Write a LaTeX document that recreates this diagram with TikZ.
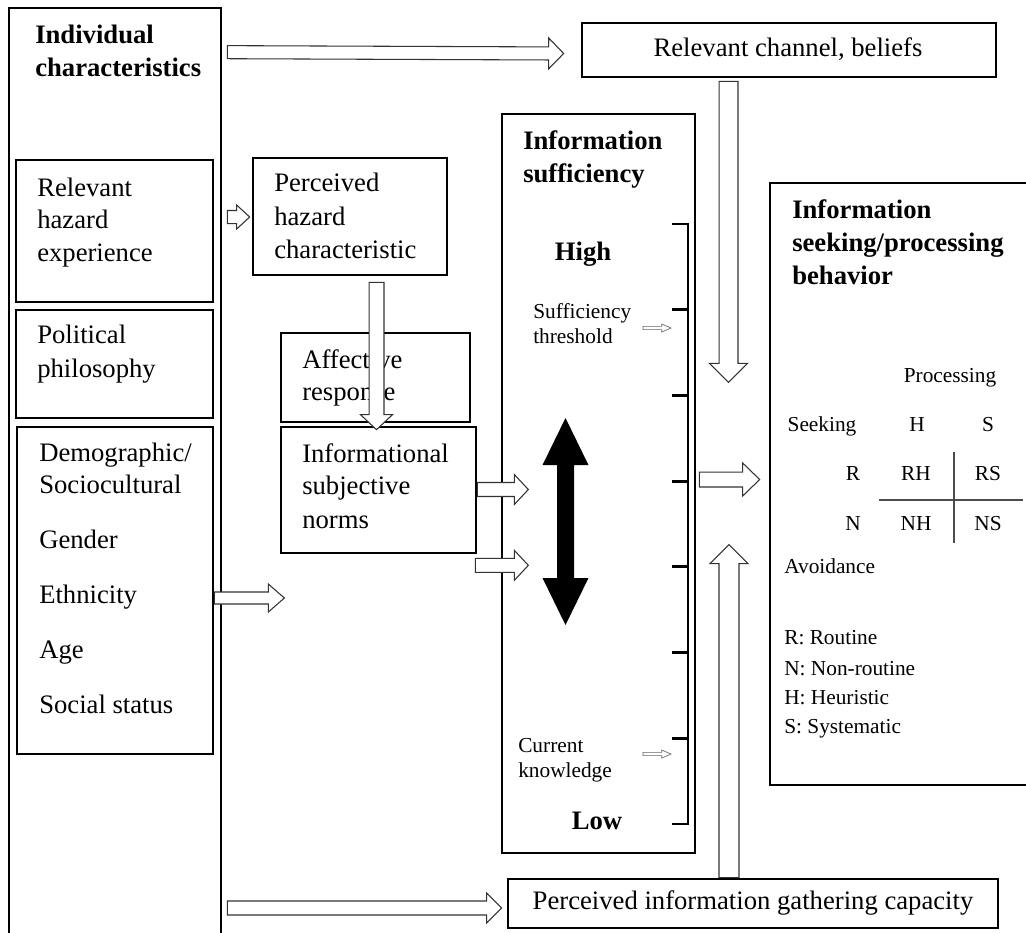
\documentclass[tikz,border=0pt]{standalone}
\usepackage{fontspec}
\setmainfont{Liberation Serif}
\usetikzlibrary{calc,fit}
% block arrow: [style]{from}{to}{shaft half width}{head half width}{head length}
\newcommand\blockarrow[6][]{%
  \coordinate (bas) at #2;
  \coordinate (bae) at #3;
  \coordinate (bac) at ($(bae)!#6!(bas)$);
  \draw[arrowbody,#1] ($(bas)!#4!90:(bae)$) -- ($(bac)!#4!90:(bae)$) -- ($(bac)!#5!90:(bae)$)
     -- (bae) -- ($(bac)!#5!-90:(bae)$) -- ($(bac)!#4!-90:(bae)$) -- ($(bas)!#4!-90:(bae)$) -- cycle;
}
\begin{document}
\begin{tikzpicture}[x=0.75pt,y=-0.75pt,
  box/.style={draw=black,line width=2pt,inner sep=0pt},
  arrowbody/.style={draw=black!80,fill=white,line width=0.8pt,line join=miter},
  big/.style={font=\fontsize{20}{24}\selectfont,inner sep=0pt,text height=13.6pt,text depth=4pt},
  bigb/.style={big,font=\fontsize{20}{24}\selectfont\bfseries},
  small/.style={font=\fontsize{16}{19}\selectfont,inner sep=0pt,text height=10.9pt,text depth=3.2pt},
  lft/.style={anchor=west},
  scalebar/.style={line width=2.2pt},
  tableline/.style={draw=black!70,line width=0.9pt}]
\useasboundingbox (0,0) rectangle (1026,933);

% ---------- boxes ----------
\node[box, fit={(9,8) (221,945)}] (indiv) {};
\node[box, fit={(16,160) (213,302)}] (hazardexp) {};
\node[box, fit={(16,310) (213,418)}] (political) {};
\node[box, fit={(17,427) (213,754)}] (demog) {};
\node[box, fit={(582,23) (996,77)}] (relchan) {};
\node[box, fit={(253,158) (447,275)}] (perceived) {};
\node[box, fit={(281,333) (470,422)}] (affective) {};
\node[box, fit={(281,427) (476,553)}] (informational) {};
\node[box, fit={(502,114) (695,853)}] (suff) {};
\node[box, fit={(770,183) (1040,785)}] (seekbox) {};
\node[box, fit={(508,879) (998,928)}] (gather) {};

% ---------- texts ----------
\node[bigb,lft] (t-indiv1) at (35,37) {Individual};
\node[bigb,lft] (t-indiv2) at (35,70) {characteristics};

\node[big,lft] (t-haz1) at (37,190) {Relevant};
\node[big,lft] (t-haz2) at (37,222) {hazard};
\node[big,lft] (t-haz3) at (37,255) {experience};

\node[big,lft] (t-pol1) at (37,337) {Political};
\node[big,lft] (t-pol2) at (37,371) {philosophy};

\node[big,lft] (t-dem1) at (39,455) {Demographic/};
\node[big,lft] (t-dem2) at (39,487) {Sociocultural};
\node[big,lft] (t-dem3) at (39,542) {Gender};
\node[big,lft] (t-dem4) at (39,597) {Ethnicity};
\node[big,lft] (t-dem5) at (39,652) {Age};
\node[big,lft] (t-dem6) at (39,707) {Social status};

\node[big] (t-relchan) at (788,50) {Relevant channel, beliefs};

\node[big,lft] (t-per1) at (274,185) {Perceived};
\node[big,lft] (t-per2) at (274,219) {hazard};
\node[big,lft] (t-per3) at (274,252) {characteristic};

\node[big,lft] (t-aff1) at (302,362) {Affective};
\node[big,lft] (t-aff2) at (302,394) {response};

\node[big,lft] (t-inf1) at (302,456) {Informational};
\node[big,lft] (t-inf2) at (302,488) {subjective};
\node[big,lft] (t-inf3) at (302,522) {norms};

\node[bigb,lft] (t-suff1) at (523,143) {Information};
\node[bigb,lft] (t-suff2) at (523,176) {sufficiency};
\node[bigb] (t-high) at (583,254) {High};
\node[small,lft] (t-thr1) at (533,313) {Sufficiency};
\node[small,lft] (t-thr2) at (533,338) {threshold};
\node[small,lft] (t-cur1) at (518,747) {Current};
\node[small,lft] (t-cur2) at (518,772) {knowledge};
\node[bigb] (t-low) at (597,823) {Low};

\node[big] (t-gather) at (753,903) {Perceived information gathering capacity};

\node[bigb,lft] (t-seek1) at (792,212) {Information};
\node[bigb,lft] (t-seek2) at (792,245) {seeking/processing};
\node[bigb,lft] (t-seek3) at (792,278) {behavior};

\node[small] (t-proc) at (950,377) {Processing};
\node[small] (t-seeking) at (822,426) {Seeking};
\node[small] (t-colH) at (917,426) {H};
\node[small] (t-colS) at (988,426) {S};
\node[small] (t-rowR) at (853,475) {R};
\node[small] (t-RH) at (916,475) {RH};
\node[small] (t-RS) at (988,475) {RS};
\node[small] (t-rowN) at (853,525) {N};
\node[small] (t-NH) at (916,525) {NH};
\node[small] (t-NS) at (988,525) {NS};
\draw[tableline] (954,452) -- (954,543);
\draw[tableline] (879,500) -- (1023,500);
\node[small,lft] (t-avoid) at (784,568) {Avoidance};
\node[small,lft] (t-legR) at (784,639) {R: Routine};
\node[small,lft] (t-legN) at (784,670) {N: Non-routine};
\node[small,lft] (t-legH) at (784,699) {H: Heuristic};
\node[small,lft] (t-legS) at (784,728) {S: Systematic};

% ---------- scale bar ----------
\draw[scalebar] (672,224) -- (688,224) -- (688,824) -- (672,824);
\foreach \yy in {309.7,395.4,481.1,566.9,652.6,738.3}
  \draw[scalebar] (672,\yy) -- (688,\yy);

% ---------- double arrow ----------
\fill[black] (565.5,418) -- (588.5,465) -- (574,465) -- (574,578) -- (588.5,578)
  -- (565.5,625) -- (542.5,578) -- (557,578) -- (557,465) -- (542.5,465) -- cycle;

% ---------- block arrows ----------
\blockarrow{($(indiv.north east)+(5,45.5)$)}{($(relchan.west)+(-17,3.5)$)}{4.9pt}{11.6pt}{11.25pt}
\blockarrow{($(hazardexp.east)+(13,-14)$)}{($(perceived.west)+(-2,0.5)$)}{4.9pt}{9pt}{9.75pt}
\blockarrow{($(perceived.south)+(26.5,6)$)}{($(informational.north)+(-2,4)$)}{5.6pt}{12pt}{11.25pt}
\blockarrow{($(demog.east)+(0,7.5)$)}{($(demog.east)+(70,7.5)$)}{4.5pt}{10.5pt}{12pt}
\blockarrow{($(informational.east)+(0,-0.5)$)}{($(informational.east)+(51,-0.5)$)}{5.25pt}{11.25pt}{10.5pt}
\blockarrow{($(informational.south east)+(-2,11)$)}{($(informational.south east)+(51,11)$)}{5.25pt}{11.25pt}{10.5pt}
\blockarrow{($(suff.east)+(3,-4)$)}{($(seekbox.west)+(-9,-4.5)$)}{5.6pt}{12.4pt}{12.75pt}
\blockarrow{($(relchan.south)+(-60.5,3)$)}{($(relchan.south)+(-60.5,304)$)}{7.1pt}{14.25pt}{14.25pt}
\blockarrow{($(gather.north)+(-24,0)$)}{($(gather.north)+(-24,-333)$)}{7.5pt}{14.25pt}{14.25pt}
\blockarrow{($(indiv.east|-gather.west)+(5,4.5)$)}{($(gather.west)+(-5,4.5)$)}{5.25pt}{11.25pt}{11.25pt}

% small arrows pointing to scale
\coordinate (thr-s) at (643,328);
\coordinate (thr-e) at (671,328);
\coordinate (cur-s) at (643,754);
\coordinate (cur-e) at (671,754);
\blockarrow[line width=0.5pt,draw=black!60]{(thr-s)}{(thr-e)}{1.2pt}{3pt}{7pt}
\blockarrow[line width=0.5pt,draw=black!60]{(cur-s)}{(cur-e)}{1.2pt}{3pt}{7pt}
\end{tikzpicture}
\end{document}
